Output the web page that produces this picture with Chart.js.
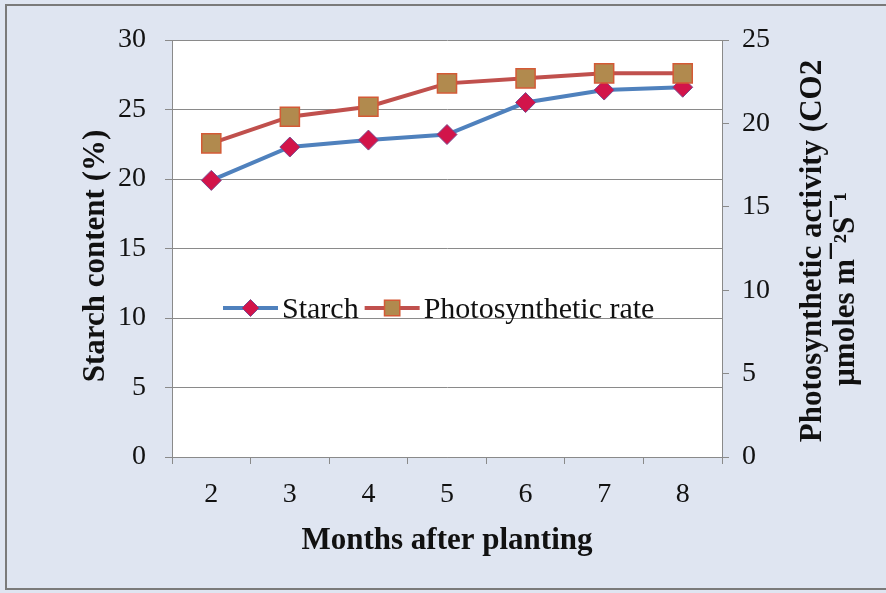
<!DOCTYPE html>
<html>
<head>
<meta charset="utf-8">
<script src="https://cdn.jsdelivr.net/npm/chart.js@4/dist/chart.umd.min.js"></script>
<style>
  html, body { margin: 0; padding: 0; background: #dfe5f1; }
  #wrap { width: 886px; height: 593px; }
</style>
</head>
<body>
<div id="wrap"><canvas id="c" width="886" height="593"></canvas></div>
<script>
// Months after planting
const months = ['2', '3', '4', '5', '6', '7', '8'];
// Starch content (%), left axis
const starch = [19.9, 22.3, 22.8, 23.2, 25.5, 26.4, 26.6];
// Photosynthetic rate (CO2 µmoles m-2 s-1), right axis
const photo = [18.8, 20.4, 21.0, 22.4, 22.7, 23.0, 23.0];

const seriesNames = ['Starch', 'Photosynthetic rate'];
const leftTitle = 'Starch content (%)';
const rightTitle = ['Photosynthetic activity (CO2', 'µmoles m¯²S¯¹'];
const xTitle = 'Months after planting';

const SERIF = '"Liberation Serif", "Times New Roman", serif';
const GRID = '#8a8a8a';
const INK = '#111111';

// Panel background, white plot area and the outer frame
const backdrop = {
  id: 'backdrop',
  beforeDraw(chart) {
    const { ctx, chartArea: a, width, height } = chart;
    ctx.save();
    ctx.fillStyle = '#dfe5f1';
    ctx.fillRect(0, 0, width, height);
    ctx.fillStyle = '#ffffff';
    ctx.fillRect(a.left, a.top, a.right - a.left, a.bottom - a.top);
    ctx.strokeStyle = '#7a7a7a';
    ctx.lineWidth = 2;
    ctx.strokeRect(6, 5, width + 20, height - 9);
    ctx.restore();
  }
};

// Vertical axis titles (both read bottom-to-top)
const sideTitles = {
  id: 'sideTitles',
  afterDraw(chart) {
    const { ctx } = chart;
    ctx.save();
    ctx.fillStyle = INK;
    ctx.font = 'bold 31px ' + SERIF;
    ctx.textAlign = 'center';
    ctx.textBaseline = 'middle';
    const draw = (txt, x, y) => {
      ctx.save();
      ctx.translate(x, y);
      ctx.rotate(-Math.PI / 2);
      ctx.fillText(txt, 0, 0);
      ctx.restore();
    };
    draw(leftTitle, 96, 256);
    draw(rightTitle[0], 813, 251);
    draw(rightTitle[1], 846, 289);
    ctx.restore();
  }
};

// Legend drawn inside the plot area
const innerLegend = {
  id: 'innerLegend',
  afterDatasetsDraw(chart) {
    const { ctx, chartArea: a } = chart;
    const y = a.top + 268;
    let x = a.left + 51;
    ctx.save();
    ctx.font = '30px ' + SERIF;
    ctx.textBaseline = 'alphabetic';
    ctx.textAlign = 'left';
    chart.data.datasets.forEach((ds) => {
      ctx.strokeStyle = ds.borderColor;
      ctx.lineWidth = 4;
      ctx.beginPath();
      ctx.moveTo(x, y);
      ctx.lineTo(x + 55, y);
      ctx.stroke();
      ctx.fillStyle = ds.pointBackgroundColor;
      ctx.strokeStyle = ds.pointBorderColor;
      ctx.lineWidth = ds.pointBorderWidth;
      Chart.helpers.drawPoint(ctx, {
        pointStyle: ds.pointStyle,
        rotation: 0,
        borderWidth: ds.pointBorderWidth,
        radius: ds.pointStyle === 'rect' ? ds.pointRadius * 0.8 : ds.pointRadius * 0.85
      }, x + 27.5, y);
      ctx.fillStyle = INK;
      ctx.fillText(ds.label, x + 59, y + 10);
      x += 59 + ctx.measureText(ds.label).width + 6;
    });
    ctx.restore();
  }
};

new Chart(document.getElementById('c'), {
  type: 'line',
  data: {
    labels: months,
    datasets: [
      {
        label: seriesNames[0],
        data: starch,
        yAxisID: 'y',
        borderColor: '#4f81bd',
        borderWidth: 4,
        pointStyle: 'rectRot',
        pointRadius: 10,
        pointBackgroundColor: '#d2144a',
        pointBorderColor: '#7a4a8e',
        pointBorderWidth: 1,
        tension: 0,
        order: 2
      },
      {
        label: seriesNames[1],
        data: photo,
        yAxisID: 'y1',
        borderColor: '#c0504d',
        borderWidth: 4,
        pointStyle: 'rect',
        pointRadius: 13.5,
        pointBackgroundColor: '#b18a4e',
        pointBorderColor: '#d45a36',
        pointBorderWidth: 1.5,
        tension: 0,
        order: 1
      }
    ]
  },
  options: {
    responsive: false,
    animation: false,
    devicePixelRatio: 1,
    layout: { padding: { top: 40, left: 0, right: 0, bottom: 0 } },
    plugins: {
      legend: { display: false },
      tooltip: { enabled: false }
    },
    scales: {
      x: {
        type: 'category',
        offset: true,
        grid: {
          offset: true,
          drawOnChartArea: false,
          drawTicks: true,
          tickLength: 7,
          color: GRID,
          lineWidth: 1
        },
        border: { display: true, color: GRID, width: 1 },
        ticks: {
          color: INK,
          font: { family: SERIF, size: 28 },
          padding: 14
        },
        title: {
          display: true,
          text: xTitle,
          color: INK,
          font: { family: SERIF, size: 31, weight: 'bold' },
          padding: { top: 0, bottom: 33 }
        },
        afterFit(scale) { scale.height = 136; }
      },
      y: {
        position: 'left',
        min: 0,
        max: 30,
        ticks: {
          stepSize: 5,
          color: INK,
          font: { family: SERIF, size: 28 },
          padding: 19
        },
        grid: {
          color: GRID,
          lineWidth: 1,
          drawTicks: true,
          tickLength: 7
        },
        border: { display: true, color: GRID, width: 1 },
        afterFit(scale) { scale.width = 172; }
      },
      y1: {
        position: 'right',
        min: 0,
        max: 25,
        ticks: {
          stepSize: 5,
          color: INK,
          font: { family: SERIF, size: 28 },
          padding: 13
        },
        grid: {
          drawOnChartArea: false,
          drawTicks: true,
          tickLength: 7,
          color: GRID,
          lineWidth: 1
        },
        border: { display: true, color: GRID, width: 1 },
        afterFit(scale) { scale.width = 164; }
      }
    }
  },
  plugins: [backdrop, sideTitles, innerLegend]
});
</script>
</body>
</html>
